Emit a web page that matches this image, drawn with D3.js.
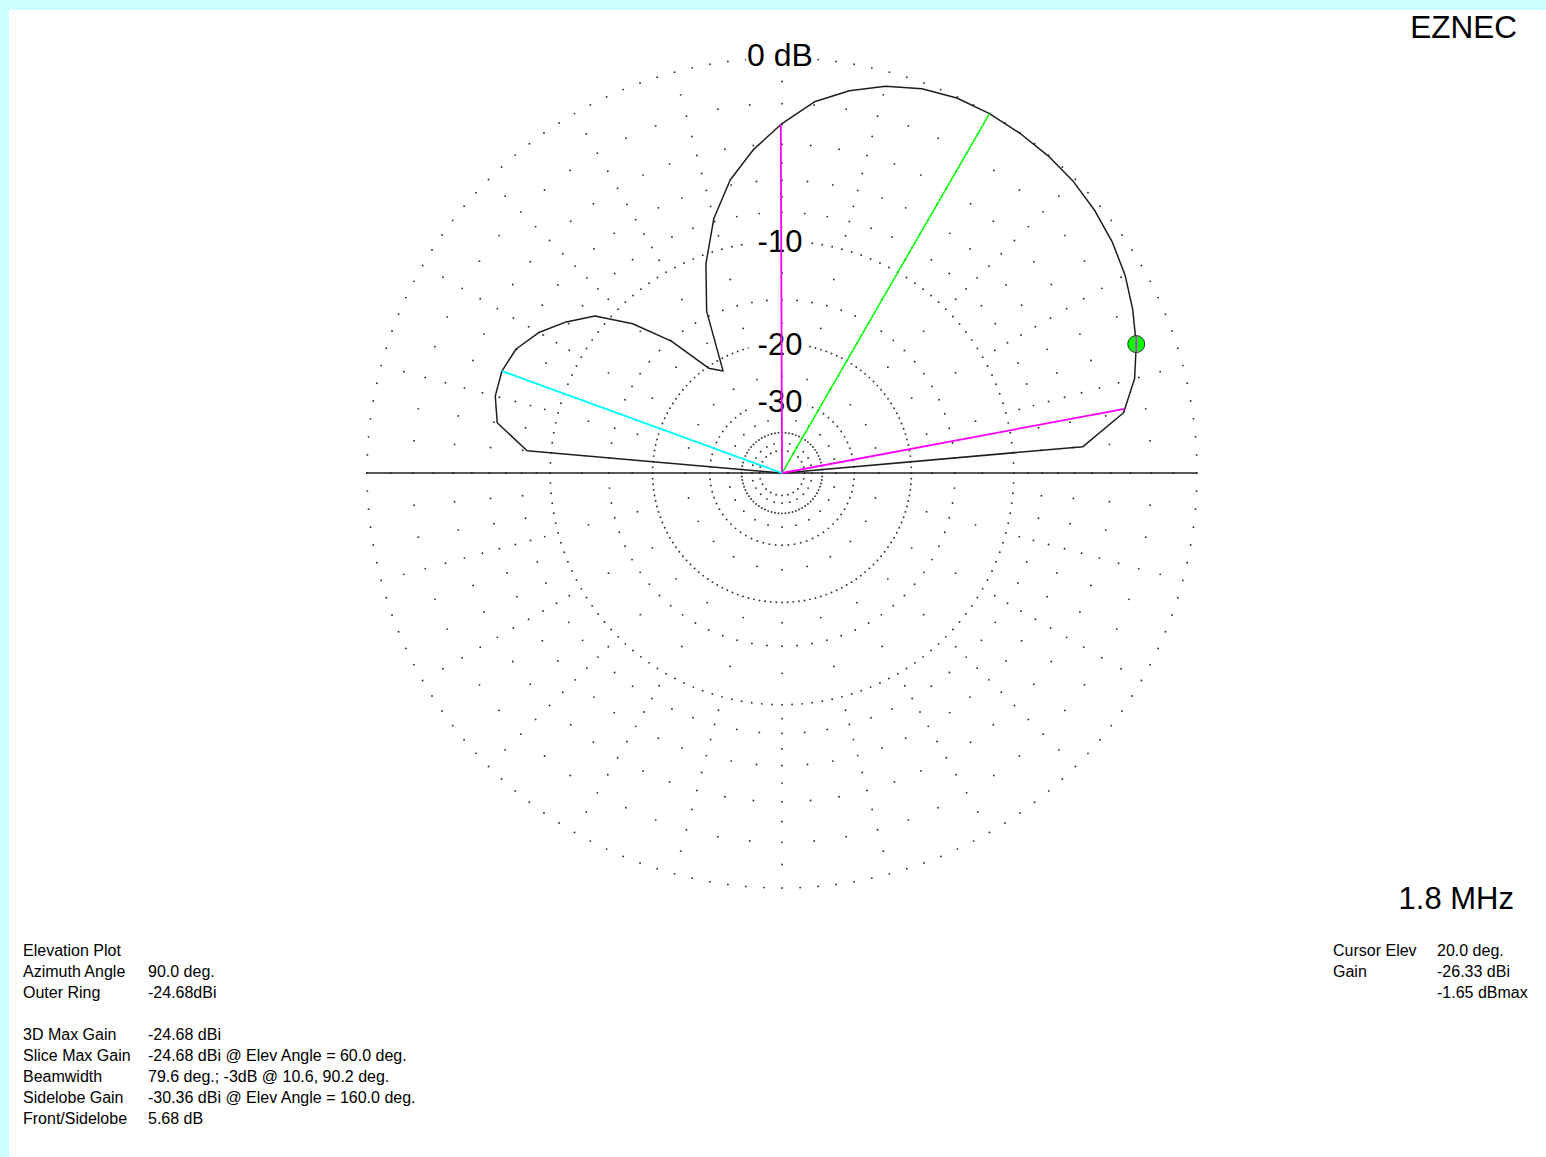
<!DOCTYPE html>
<html>
<head>
<meta charset="utf-8">
<script src="https://cdn.jsdelivr.net/npm/d3@7/dist/d3.min.js"></script>
<style>
  html, body { margin: 0; padding: 0; background: #ccffff; }
  svg { display: block; }
  text { font-family: "Liberation Sans", Arial, sans-serif; fill: #000; }
</style>
</head>
<body>
<svg id="chart" width="1546" height="1157"></svg>
<script>
// ---------------- DATA ----------------
const elevAngles = [0,5,10,15,20,25,30,35,40,45,50,55,60,65,70,75,80,85,90,
                    95,100,105,110,115,120,125,130,135,140,145,150,155,160,165,170,175,180];
const gainDb = [-99, -5.45, -3.08, -2.2, -1.65, -1.2, -0.8, -0.5, -0.28, -0.12, -0.04, -0.01, 0,
                -0.05, -0.25, -0.62, -1.15, -1.85, -2.95,
                -4.2, -5.7, -7.8, -10.7, -14.5, -21.6, -20.2, -15.1, -11.6, -9.1, -7.8, -6.7,
                -5.95, -5.68, -5.75, -6.2, -8.3, -99];

const majorRings = [0, -10, -20, -30, -40, -50];
const majorRingStepDeg = [2.5, 2.5, 2.5, 5, 5, 15];
const minorRingsFine = [-2, -4, -6, -8, -15];            // dots every 5 deg
const minorRingsCoarse = [-1, -3, -5, -7, -9, -12.5, -17.5, -25, -35, -45]; // dots every 15 deg
const ringLabels = [{dB: -10, text: "-10"}, {dB: -20, text: "-20"}, {dB: -30, text: "-30"}];
const outerLabel = "0 dB";

const maxGainAngle = 60;
const beamwidthAngles = [10.6, 90.2];
const beamwidthDb = -3;
const sidelobeAngle = 160, sidelobeDb = -5.68;
const cursorAngle = 20, cursorDb = -1.65;

const infoLeftLabels = ["Elevation Plot", "Azimuth Angle", "Outer Ring", "", "3D Max Gain",
                        "Slice Max Gain", "Beamwidth", "Sidelobe Gain", "Front/Sidelobe"];
const infoLeftValues = ["", "90.0 deg.", "-24.68dBi", "", "-24.68 dBi",
                        "-24.68 dBi @ Elev Angle = 60.0 deg.", "79.6 deg.; -3dB @ 10.6, 90.2 deg.",
                        "-30.36 dBi @ Elev Angle = 160.0 deg.", "5.68 dB"];
const infoRightLabels = ["Cursor Elev", "Gain", ""];
const infoRightValues = ["20.0 deg.", "-26.33 dBi", "-1.65 dBmax"];
const titleText = "EZNEC";
const freqText = "1.8 MHz";

// ---------------- LAYOUT ----------------
const W = 1546, H = 1157;
const cx = 782, cy = 473, R = 415;

const svg = d3.select("#chart");
svg.append("rect").attr("x", 9).attr("y", 10).attr("width", W - 9).attr("height", H - 10).attr("fill", "#ffffff");

// ARRL log scale: each 2 dB -> factor 0.89 in radius
const logR = d3.scaleLinear().domain([0, -2]).range([Math.log(R), Math.log(R) + Math.log(0.89)]);
const rScale = dB => Math.exp(logR(dB));
const angScale = d3.scaleLinear().domain([0, 180]).range([Math.PI / 2, -Math.PI / 2]); // d3 radial angle

const g = svg.append("g").attr("transform", `translate(${cx},${cy})`);

function polar(elev, dB) {
  const a = angScale(elev), r = rScale(dB);
  return [r * Math.sin(a), -r * Math.cos(a)];
}

// grid dots
const dots = [];
function addRing(dB, step) {
  const n = Math.round(360 / step);
  for (let i = 0; i < n; i++) dots.push(polar(i * step, dB));
}
majorRings.forEach((d, i) => addRing(d, majorRingStepDeg[i]));
minorRingsFine.forEach(d => addRing(d, 5));
minorRingsCoarse.forEach(d => addRing(d, 15));

g.append("g").selectAll("circle").data(dots).join("circle")
  .attr("cx", d => d[0]).attr("cy", d => d[1]).attr("r", 0.95).attr("fill", "#333");

// labels with white background
function label(text, y, size, padL, padR) {
  const t = g.append("text").attr("x", -2).attr("y", y).attr("text-anchor", "middle")
    .attr("font-size", size).text(text);
  const b = t.node().getBBox();
  g.insert("rect", () => t.node()).attr("x", b.x - padL).attr("y", b.y + 3).attr("width", b.width + padL + padR)
    .attr("height", b.height - 5).attr("fill", "#fff");
}
label(outerLabel, -rScale(0) + 8, 32, 1, 1);
ringLabels.forEach(l => label(l.text, -rScale(l.dB) + 11, 31, 9, 5));

// baseline
g.append("line").attr("x1", -R - 1).attr("x2", R).attr("y1", 0).attr("y2", 0)
  .attr("stroke", "#222").attr("stroke-width", 1.6);

// pattern
const pattern = elevAngles.map((a, i) => ({a, d: gainDb[i]}));
const lineGen = d3.lineRadial().angle(d => angScale(d.a)).radius(d => rScale(d.d));
g.append("path").datum(pattern).attr("d", lineGen).attr("fill", "none")
  .attr("stroke", "#1e1e1e").attr("stroke-width", 1.5).attr("stroke-linejoin", "round");

// colored radial lines
function ray(elev, dB, color, w) {
  const p = polar(elev, dB);
  g.append("line").attr("x1", 0).attr("y1", 0).attr("x2", p[0]).attr("y2", p[1])
    .attr("stroke", color).attr("stroke-width", w);
}
ray(maxGainAngle, 0, "#00ff00", 1.5);
beamwidthAngles.forEach(a => ray(a, beamwidthDb, "#ff00ff", 1.8));
ray(sidelobeAngle, sidelobeDb, "#00ffff", 1.8);

// cursor marker
const cp = polar(cursorAngle, cursorDb);
g.append("circle").attr("cx", cp[0]).attr("cy", cp[1]).attr("r", 8.5)
  .attr("fill", "#00ff00").attr("stroke", "#333").attr("stroke-width", 1);
g.append("line").attr("x1", cp[0]).attr("x2", cp[0]).attr("y1", cp[1] - 8).attr("y2", cp[1] + 8)
  .attr("stroke", "#ff00ff").attr("stroke-width", 1.5);

// titles
svg.append("text").attr("x", 1517).attr("y", 38).attr("text-anchor", "end").attr("font-size", 31.5).text(titleText);
svg.append("text").attr("x", 1514).attr("y", 909).attr("text-anchor", "end").attr("font-size", 31).text(freqText);

// info blocks
const infoSize = 16;
infoLeftLabels.forEach((t, i) => {
  const y = 956 + i * 21;
  svg.append("text").attr("x", 23).attr("y", y).attr("font-size", infoSize).text(t);
  svg.append("text").attr("x", 148).attr("y", y).attr("font-size", infoSize).text(infoLeftValues[i]);
});
infoRightLabels.forEach((t, i) => {
  const y = 956 + i * 21;
  svg.append("text").attr("x", 1333).attr("y", y).attr("font-size", infoSize).text(t);
  svg.append("text").attr("x", 1437).attr("y", y).attr("font-size", infoSize).text(infoRightValues[i]);
});
</script>
</body>
</html>
